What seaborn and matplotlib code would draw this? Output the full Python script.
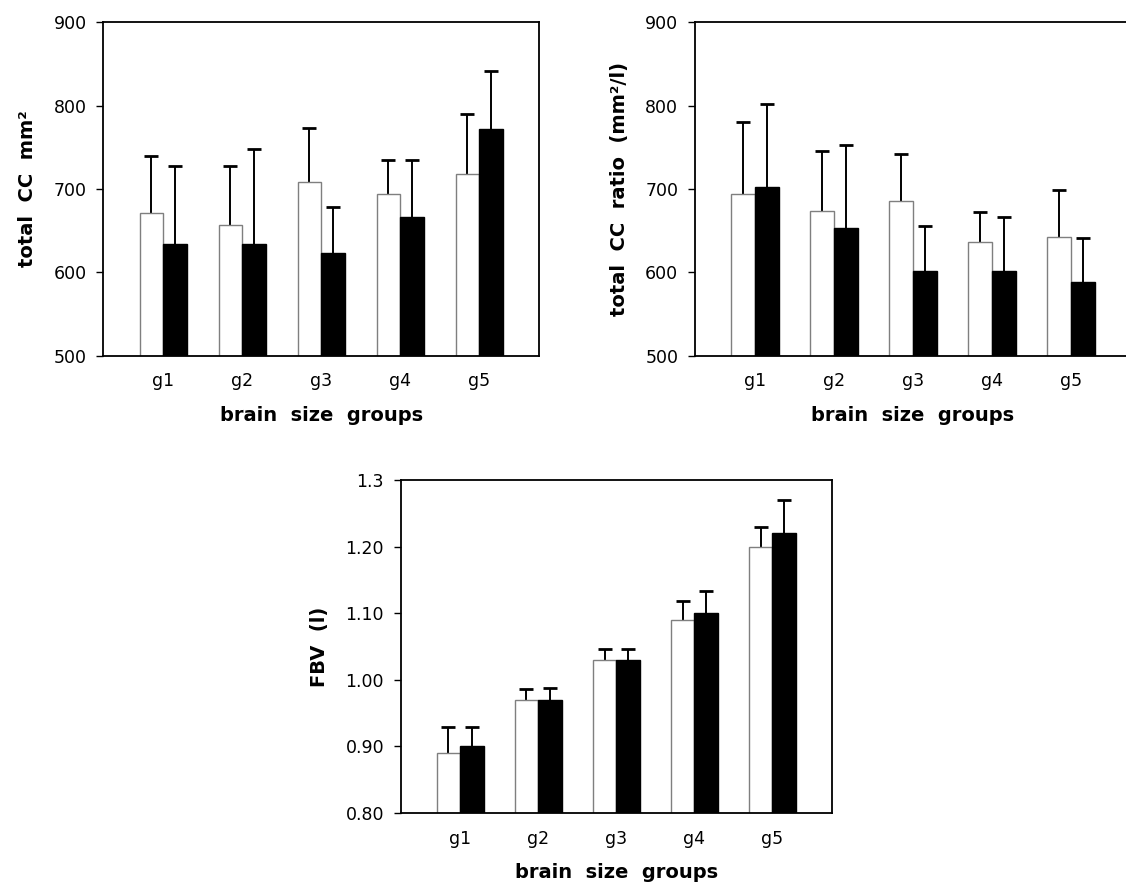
import numpy as np
import pandas as pd
import matplotlib
matplotlib.use("Agg")
import matplotlib.pyplot as plt
import seaborn as sns

# ---- data -------------------------------------------------------------
groups = ["g1", "g2", "g3", "g4", "g5"]
series = ["A", "B"]

cc_a = [671, 657, 709, 694, 718]
cc_a_sd = [69, 71, 64, 41, 72]
cc_b = [634, 634, 623, 667, 772]
cc_b_sd = [94, 114, 56, 68, 70]

ratio_a = [694, 674, 686, 637, 642]
ratio_a_sd = [87, 72, 56, 35, 57]
ratio_b = [702, 653, 602, 602, 588]
ratio_b_sd = [100, 100, 54, 64, 53]

fbv_a = [0.89, 0.97, 1.03, 1.09, 1.20]
fbv_a_sd = [0.039, 0.016, 0.016, 0.029, 0.030]
fbv_b = [0.90, 0.97, 1.03, 1.10, 1.22]
fbv_b_sd = [0.029, 0.017, 0.016, 0.033, 0.050]

cc_ticks = [500, 600, 700, 800, 900]
cc_ticklabels = ["500", "600", "700", "800", "900"]
fbv_ticks = [0.80, 0.90, 1.00, 1.10, 1.20, 1.30]
fbv_ticklabels = ["0.80", "0.90", "1.00", "1.10", "1.20", "1.3"]

# ---- style ------------------------------------------------------------
sns.set_theme(style="white")
plt.rcParams["font.family"] = ["DejaVu Sans"]
plt.rcParams["axes.linewidth"] = 1.3

fill_colors = {"A": "white", "B": "black"}
edge_colors = {"A": "#7f7f7f", "B": "black"}


def make_frame(a, a_sd, b, b_sd):
    rows = []
    for i, g in enumerate(groups):
        rows.append({"group": g, "series": "A", "value": a[i], "sd": a_sd[i]})
        rows.append({"group": g, "series": "B", "value": b[i], "sd": b_sd[i]})
    return pd.DataFrame(rows)


def draw_panel(ax, df, ylim, ticks, ticklabels, ylabel):
    sns.barplot(data=df, x="group", y="value", hue="series", order=groups,
                hue_order=series, palette=fill_colors, width=0.6, gap=0,
                errorbar=None, legend=False, ax=ax, zorder=2)
    # bars are drawn hue-by-hue: first series A for all groups, then B
    for k, s in enumerate(series):
        sub = df[df["series"] == s].set_index("group").loc[groups]
        patches = ax.patches[k * len(groups):(k + 1) * len(groups)]
        xs = []
        for p in patches:
            p.set_edgecolor(edge_colors[s])
            p.set_linewidth(1.0)
            xs.append(p.get_x() + p.get_width() / 2)
        lower = np.zeros(len(groups))
        _, caps, _ = ax.errorbar(xs, sub["value"].values,
                                 yerr=[lower, sub["sd"].values],
                                 fmt="none", ecolor="black", elinewidth=1.4,
                                 capsize=5, capthick=2.0, zorder=1)
        # only the upper whisker gets a cap
        if len(caps) == 2:
            caps[0].set_visible(False)
    ax.set_ylim(*ylim)
    ax.set_xlim(-0.76, 4.76)
    ax.set_yticks(ticks)
    ax.set_yticklabels(ticklabels)
    ax.tick_params(axis="y", which="major", length=5, width=1.0,
                   direction="out", left=True, labelsize=12.5, pad=7,
                   colors="black")
    ax.tick_params(axis="x", length=0, labelsize=12.5, pad=12, colors="black")
    ax.set_xlabel("brain  size  groups", fontsize=14, fontweight="bold",
                  labelpad=11, color="black")
    ax.set_ylabel(ylabel, fontsize=14, fontweight="bold", labelpad=12,
                  color="black")
    for sp in ax.spines.values():
        sp.set_visible(True)
        sp.set_color("black")
        sp.set_linewidth(1.3)


fig = plt.figure(figsize=(11.26, 8.84), dpi=100)
ax1 = fig.add_axes([0.0917, 0.5976, 0.3872, 0.3771])
ax2 = fig.add_axes([0.6172, 0.5976, 0.3872, 0.3771])
ax3 = fig.add_axes([0.3559, 0.0803, 0.3828, 0.3767])

draw_panel(ax1, make_frame(cc_a, cc_a_sd, cc_b, cc_b_sd), (500, 900),
           cc_ticks, cc_ticklabels, "total  CC  mm²")
draw_panel(ax2, make_frame(ratio_a, ratio_a_sd, ratio_b, ratio_b_sd),
           (500, 900), cc_ticks, cc_ticklabels, "total  CC  ratio  (mm²/l)")
draw_panel(ax3, make_frame(fbv_a, fbv_a_sd, fbv_b, fbv_b_sd), (0.80, 1.30),
           fbv_ticks, fbv_ticklabels, "FBV  (l)")

fig.savefig("out.png", dpi=100, facecolor="white")
